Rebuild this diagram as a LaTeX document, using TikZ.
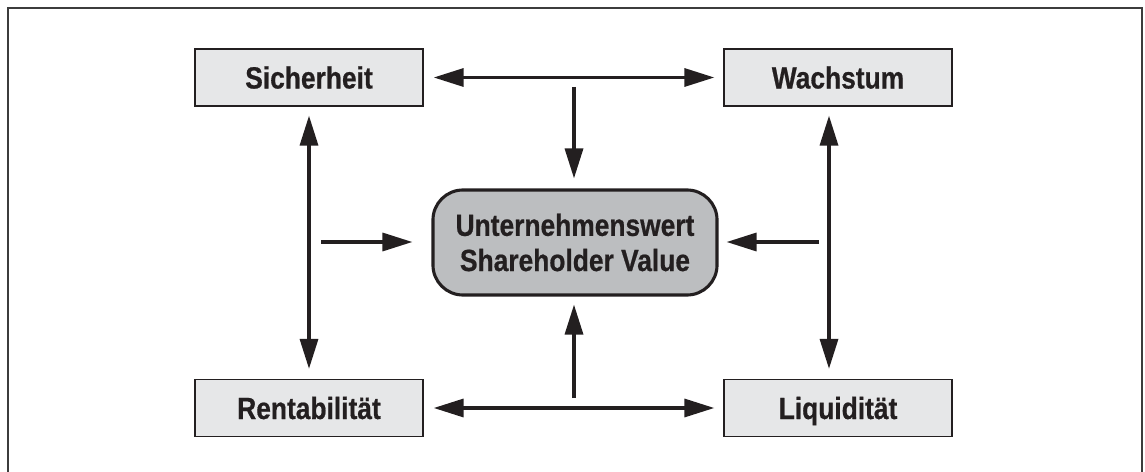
\documentclass[tikz,border=0pt]{standalone}
\usepackage{fontspec}
\setmainfont{Liberation Sans}[FakeStretch=0.86,BoldFeatures={FakeBold=0.6}]
\usetikzlibrary{arrows.meta}
\definecolor{rahmen}{HTML}{3C3C3C}
\definecolor{kastengrau}{HTML}{E6E7E8}
\definecolor{wertgrau}{HTML}{BCBEC0}
\definecolor{strich}{HTML}{231F20}
\tikzset{
	spitze/.tip={Triangle[length=0.75cm,width=0.45cm]},
	kasten/.style={draw=strich,line width=0.9pt,fill=kastengrau,minimum width=5.7cm,minimum height=1.425cm,inner sep=0pt,text height=0.55cm,text depth=0pt,text=strich,font=\fontsize{21.8}{25}\selectfont\bfseries},
	wert/.style={draw=strich,line width=2.2pt,fill=wertgrau,rounded corners=0.75cm,minimum width=7.1cm,minimum height=2.625cm,inner sep=0pt,align=center,text=strich,font=\fontsize{21.8}{25}\selectfont\bfseries},
	pfeil/.style={draw=strich,line width=2.4pt,-spitze},
	doppelpfeil/.style={draw=strich,line width=2.4pt,spitze-spitze}
}
\begin{document}
\begin{tikzpicture}[x=0.025cm,y=-0.025cm]
	\useasboundingbox (0,0) rectangle (1145,472);
	\draw[rahmen,line width=1.3pt] (8,472) -- (8,8) -- (1142,8) -- (1142,472);

	\node[kasten] (sich) at (309,77.5) {Sicherheit};
	\node[kasten] (wach) at (838,77.5) {Wachstum};
	\node[kasten] (rent) at (309,408) {Rentabilität};
	\node[kasten] (liqu) at (838,408) {Liquidität};
	\node[wert] (wert) at (575,242.5) {Unternehmenswert\\Shareholder Value};

	\coordinate (oben) at (574,87);
	\coordinate (unten) at (574,398);
	\coordinate (links) at (321,242);
	\coordinate (rechts) at (819,242);

	\draw[doppelpfeil,shorten <=0.25cm,shorten >=0.225cm] (sich) -- (wach);
	\draw[doppelpfeil,shorten <=0.25cm,shorten >=0.225cm] (rent) -- (liqu);
	\draw[doppelpfeil,shorten <=0.225cm,shorten >=0.25cm] (sich) -- (rent);
	\draw[doppelpfeil,shorten <=0.225cm,shorten >=0.25cm] ([xshift=-0.225cm]wach.south) -- ([xshift=-0.225cm]liqu.north);

	\draw[pfeil,shorten >=0.25cm] (oben) -- (oben |- wert.north);
	\draw[pfeil,shorten >=0.2cm] (unten) -- (unten |- wert.south);
	\draw[pfeil,shorten >=0.475cm] (links) -- (links -| wert.west);
	\draw[pfeil,shorten >=0.2cm] (rechts) -- (rechts -| wert.east);
\end{tikzpicture}
\end{document}
